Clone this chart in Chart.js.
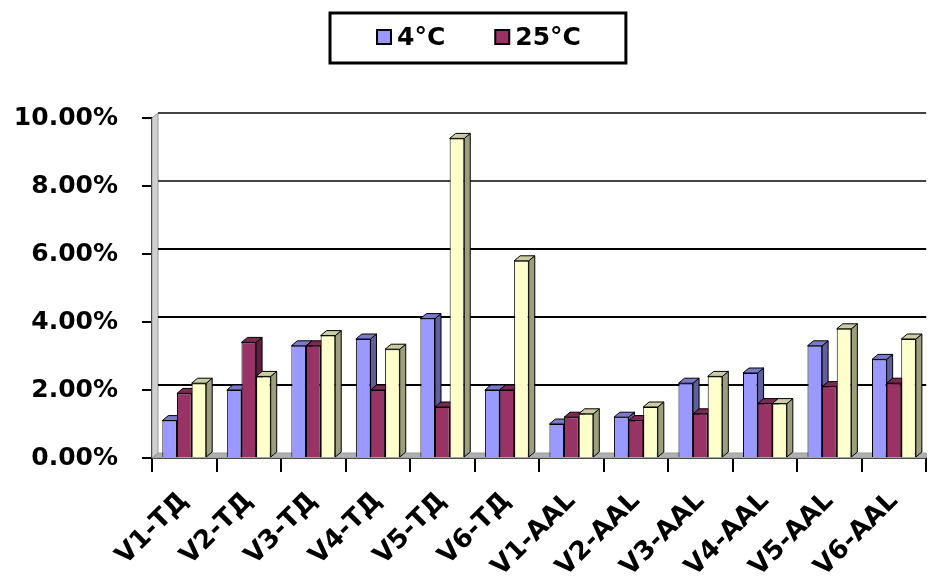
<!DOCTYPE html>
<html>
<head>
<meta charset="utf-8">
<script src="https://cdn.jsdelivr.net/npm/chart.js@4.4.1/dist/chart.umd.min.js"></script>
<style>
  body { margin: 0; background: #fff; }
  #wrap { width: 930px; height: 579px; }
</style>
</head>
<body>
<div id="wrap"><canvas id="chart"></canvas></div>
<script>
// chart data
const categories = ["V1-ТД", "V2-ТД", "V3-ТД", "V4-ТД", "V5-ТД", "V6-ТД",
  "V1-AAL", "V2-AAL", "V3-AAL", "V4-AAL", "V5-AAL", "V6-AAL"];
const seriesNames = ["4°C", "25°C", ""];
const temp4 = [1.1, 2.0, 3.3, 3.5, 4.1, 2.0, 1.0, 1.2, 2.2, 2.5, 3.3, 2.9];
const temp25 = [1.9, 3.4, 3.3, 2.0, 1.5, 2.0, 1.2, 1.1, 1.3, 1.6, 2.1, 2.2];
const third = [2.2, 2.4, 3.6, 3.2, 9.4, 5.8, 1.3, 1.5, 2.4, 1.6, 3.8, 3.5];
const yTicks = [0, 2, 4, 6, 8, 10];

const colors = ["#9999ff", "#993366", "#ffffcc"];
const FONT = "'DejaVu Sans', sans-serif";
const DX = 6, DY = 5;

// darken a hex colour
function shade(hex, f) {
  const n = parseInt(hex.slice(1), 16);
  const r = Math.round(((n >> 16) & 255) * f);
  const g = Math.round(((n >> 8) & 255) * f);
  const b = Math.round((n & 255) * f);
  return "rgb(" + r + "," + g + "," + b + ")";
}

function poly(ctx, pts, fill, stroke) {
  ctx.beginPath();
  ctx.moveTo(pts[0][0], pts[0][1]);
  for (let i = 1; i < pts.length; i++) ctx.lineTo(pts[i][0], pts[i][1]);
  ctx.closePath();
  ctx.fillStyle = fill;
  ctx.fill();
  if (stroke) {
    ctx.strokeStyle = stroke;
    ctx.lineWidth = 1;
    ctx.stroke();
  }
}

// walls, back gridlines and bar depth faces
const depthPlugin = {
  id: "depth",
  beforeDatasetsDraw(chart) {
    const ctx = chart.ctx;
    const a = chart.chartArea;
    const yScale = chart.scales.y;
    ctx.save();
    poly(ctx, [[a.left, a.top], [a.left + DX, a.top - DY], [a.left + DX, a.bottom - DY], [a.left, a.bottom]], "#d0d0d0", "#999");
    poly(ctx, [[a.left, a.bottom], [a.left + DX, a.bottom - DY], [a.right, a.bottom - DY], [a.right, a.bottom]], "#b0b0b0", "#999");

    yTicks.slice(1).forEach(v => {
      const py = yScale.getPixelForValue(v) - DY;
      ctx.beginPath();
      ctx.moveTo(a.left + DX, py);
      ctx.lineTo(a.right, py);
      ctx.strokeStyle = v >= 8 ? "#444" : "#000";
      ctx.lineWidth = 2;
      ctx.stroke();
    });

    chart.data.datasets.forEach((ds, i) => {
      const meta = chart.getDatasetMeta(i);
      meta.data.forEach(bar => {
        const left = bar.x - bar.width / 2;
        const right = bar.x + bar.width / 2;
        poly(ctx, [[right, bar.y], [right + DX, bar.y - DY], [right + DX, bar.base - DY], [right, bar.base]], shade(colors[i], 0.62), "#000");
        poly(ctx, [[left, bar.y], [left + DX, bar.y - DY], [right + DX, bar.y - DY], [right, bar.y]], shade(colors[i], 0.8), "#000");
      });
    });
    ctx.restore();
  }
};

// boxed legend, only named series
const boxLegend = {
  id: "boxLegend",
  afterDraw(chart) {
    const ctx = chart.ctx;
    ctx.save();
    ctx.font = "bold 25px " + FONT;
    ctx.textBaseline = "middle";
    const items = chart.data.datasets.map((ds, i) => ({ label: ds.label, color: colors[i] })).filter(it => it.label);
    const sq = 14, gap = 6, spacing = 50;
    let total = 0;
    items.forEach((it, i) => {
      it.w = sq + gap + ctx.measureText(it.label).width;
      total += it.w + (i ? spacing : 0);
    });
    const cx = chart.width * 0.515;
    const cy = 37;
    let x = cx - total / 2;
    ctx.lineWidth = 3;
    ctx.strokeStyle = "#000";
    ctx.strokeRect(x - 47, 13, total + 92, 50);
    items.forEach(it => {
      ctx.fillStyle = it.color;
      ctx.fillRect(x, cy - sq / 2, sq, sq);
      ctx.lineWidth = 2;
      ctx.strokeRect(x, cy - sq / 2, sq, sq);
      ctx.fillStyle = "#000";
      ctx.fillText(it.label, x + sq + gap, cy + 1);
      x += it.w + spacing;
    });
    ctx.restore();
  }
};

const datasets = [temp4, temp25, third].map((vals, i) => ({
  label: seriesNames[i],
  data: vals,
  backgroundColor: colors[i],
  borderColor: "#000",
  borderWidth: 1,
  categoryPercentage: 0.68,
  barPercentage: 1.0
}));

new Chart(document.getElementById("chart"), {
  type: "bar",
  data: { labels: categories, datasets: datasets },
  options: {
    responsive: true,
    maintainAspectRatio: false,
    animation: false,
    layout: { padding: { top: 118, left: 0, right: 0, bottom: 0 } },
    plugins: {
      legend: { display: false },
      tooltip: { enabled: false }
    },
    scales: {
      x: {
        grid: { drawOnChartArea: false, tickLength: 14, color: "#000", lineWidth: 2, offset: true },
        border: { color: "#000", width: 2 },
        afterFit: s => { s.height = 121; },
        ticks: {
          color: "#000",
          font: { family: FONT, weight: "bold", size: 26 },
          maxRotation: 45,
          minRotation: 45,
          autoSkip: false,
          padding: 14
        }
      },
      y: {
        min: 0,
        max: 10,
        grid: { drawOnChartArea: false, tickLength: 10, color: "#000", lineWidth: 2 },
        border: { color: "#000", width: 2 },
        afterFit: s => { s.width = 152; },
        ticks: {
          stepSize: 2,
          color: "#000",
          padding: 24,
          font: { family: FONT, weight: "bold", size: 25 },
          callback: v => v.toFixed(2) + "%"
        }
      }
    }
  },
  plugins: [depthPlugin, boxLegend]
});
</script>
</body>
</html>
